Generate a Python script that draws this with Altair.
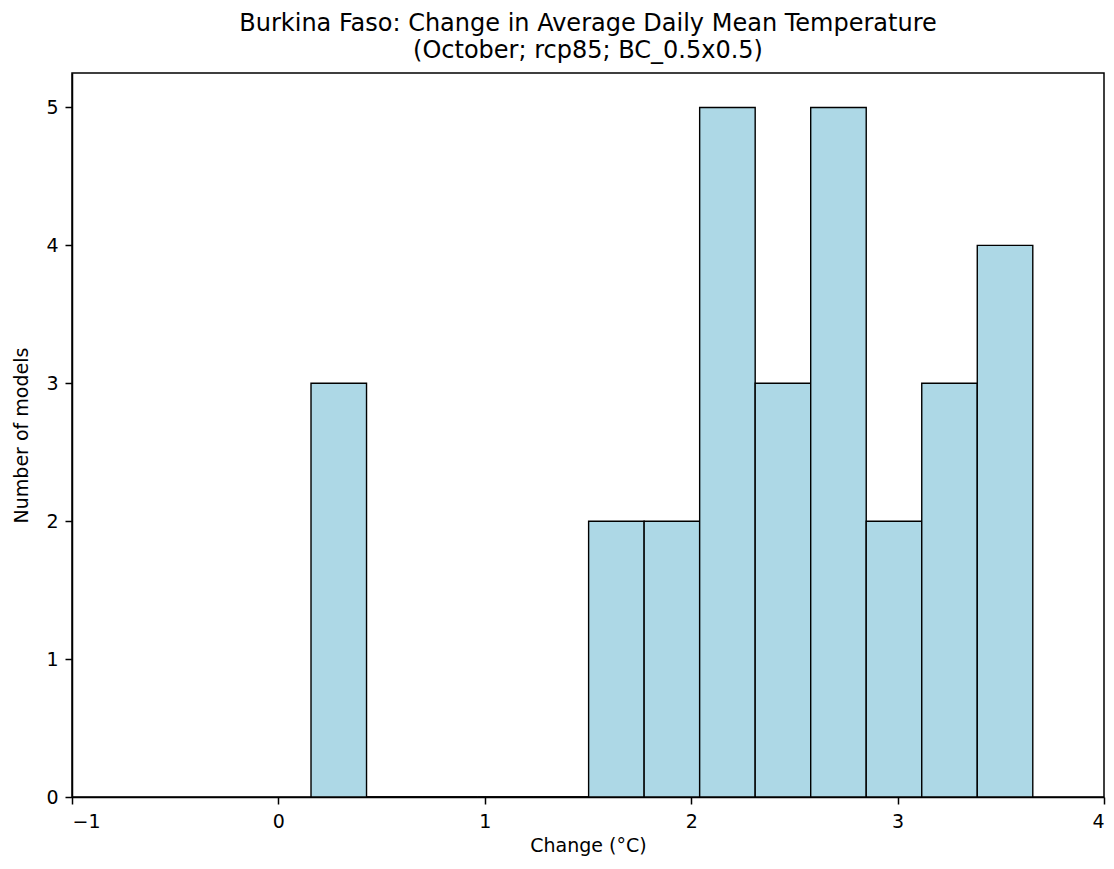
import altair as alt
import pandas as pd

# Histogram bins (°C)
bin_left = [0.158, 0.427, 0.696, 0.965, 1.234, 1.503, 1.772, 2.041, 2.310, 2.579, 2.848, 3.117, 3.386]
bin_right = [0.427, 0.696, 0.965, 1.234, 1.503, 1.772, 2.041, 2.310, 2.579, 2.848, 3.117, 3.386, 3.655]
counts = [3, 0, 0, 0, 0, 2, 2, 5, 3, 5, 2, 3, 4]

x_ticks = [-1, 0, 1, 2, 3, 4]
y_ticks = [0, 1, 2, 3, 4, 5]

title_lines = [
    "Burkina Faso: Change in Average Daily Mean Temperature",
    "(October; rcp85; BC_0.5x0.5)",
]

df = pd.DataFrame({"left": bin_left, "right": bin_right, "count": counts})

FONT = "DejaVu Sans"

bars = alt.Chart(df).mark_rect(
    fill="#add8e6", stroke="black", strokeWidth=1.4
).encode(
    x=alt.X(
        "left:Q",
        scale=alt.Scale(domain=[-1, 4], nice=False, zero=False),
        axis=alt.Axis(
            values=x_ticks, format="d", title="Change (°C)",
            tickSize=7, labelPadding=8, titlePadding=5,
        ),
    ),
    x2="right:Q",
    y=alt.Y(
        "count:Q",
        scale=alt.Scale(domain=[0, 5.25], nice=False),
        axis=alt.Axis(
            values=y_ticks, format="d", title="Number of models",
            tickSize=7, labelPadding=7, titlePadding=14,
        ),
    ),
    y2=alt.datum(0),
)

chart = bars.properties(
    width=1032,
    height=724,
    autosize="none",
    background="white",
    padding={"left": 64, "top": 65, "right": 2, "bottom": 64},
    title=alt.TitleParams(
        text=title_lines,
        font=FONT,
        fontSize=24,
        fontWeight="normal",
        color="black",
        anchor="middle",
        lineHeight=27,
        offset=10,
    ),
).configure_view(
    stroke="black", strokeWidth=1.5
).configure_axis(
    grid=False,
    domainColor="black",
    domainWidth=1.5,
    tickColor="black",
    tickWidth=1.5,
    labelColor="black",
    labelFont=FONT,
    labelFontSize=19,
    titleFont=FONT,
    titleFontSize=19,
    titleFontWeight="normal",
    titleColor="black",
)

chart.save("out.html", embed_options={"renderer": "svg", "actions": False})
